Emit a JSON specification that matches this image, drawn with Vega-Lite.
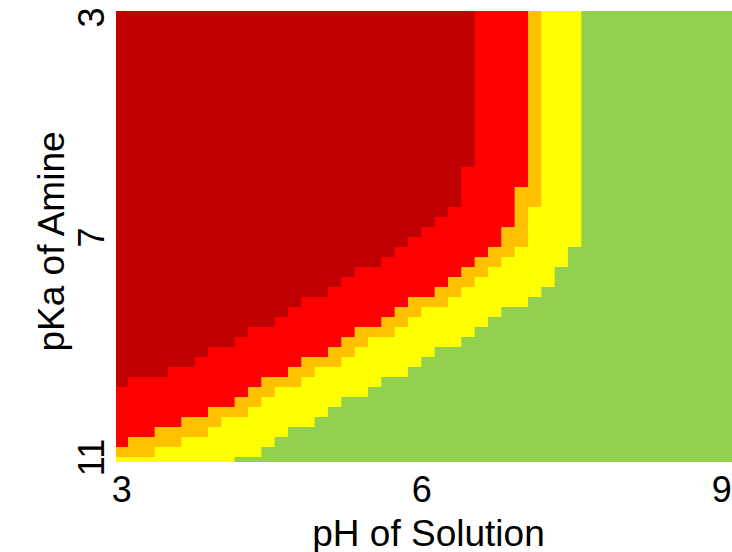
{
  "$schema": "https://vega.github.io/schema/vega-lite/v6.json",
  "width": 616,
  "height": 451,
  "autosize": {"type": "none"},
  "padding": {"left": 116, "top": 11, "right": 0, "bottom": 90},
  "background": "white",
  "config": {"view": {"stroke": null}, "font": "Liberation Sans"},
  "data": {
    "values": [
      {"y0": 2.818182, "y1": 5.727273, "lo": 2.9333, "dr": 6.5333, "rd": 7.0667, "orng": 7.2, "yr": 7.6, "hi": 9.2},
      {"y0": 5.727273, "y1": 6.090909, "lo": 2.9333, "dr": 6.4, "rd": 7.0667, "orng": 7.2, "yr": 7.6, "hi": 9.2},
      {"y0": 6.090909, "y1": 6.454545, "lo": 2.9333, "dr": 6.4, "rd": 6.9333, "orng": 7.2, "yr": 7.6, "hi": 9.2},
      {"y0": 6.454545, "y1": 6.636364, "lo": 2.9333, "dr": 6.2667, "rd": 6.9333, "orng": 7.0667, "yr": 7.6, "hi": 9.2},
      {"y0": 6.636364, "y1": 6.818182, "lo": 2.9333, "dr": 6.1333, "rd": 6.9333, "orng": 7.0667, "yr": 7.6, "hi": 9.2},
      {"y0": 6.818182, "y1": 7.0, "lo": 2.9333, "dr": 6.0, "rd": 6.8, "orng": 7.0667, "yr": 7.6, "hi": 9.2},
      {"y0": 7.0, "y1": 7.181818, "lo": 2.9333, "dr": 5.8667, "rd": 6.8, "orng": 7.0667, "yr": 7.6, "hi": 9.2},
      {"y0": 7.181818, "y1": 7.363636, "lo": 2.9333, "dr": 5.7333, "rd": 6.6667, "orng": 6.9333, "yr": 7.4667, "hi": 9.2},
      {"y0": 7.363636, "y1": 7.545455, "lo": 2.9333, "dr": 5.6, "rd": 6.5333, "orng": 6.8, "yr": 7.4667, "hi": 9.2},
      {"y0": 7.545455, "y1": 7.727273, "lo": 2.9333, "dr": 5.3333, "rd": 6.4, "orng": 6.6667, "yr": 7.3333, "hi": 9.2},
      {"y0": 7.727273, "y1": 7.909091, "lo": 2.9333, "dr": 5.2, "rd": 6.2667, "orng": 6.5333, "yr": 7.3333, "hi": 9.2},
      {"y0": 7.909091, "y1": 8.090909, "lo": 2.9333, "dr": 5.0667, "rd": 6.1333, "orng": 6.4, "yr": 7.2, "hi": 9.2},
      {"y0": 8.090909, "y1": 8.272727, "lo": 2.9333, "dr": 4.8, "rd": 5.8667, "orng": 6.2667, "yr": 7.0667, "hi": 9.2},
      {"y0": 8.272727, "y1": 8.454545, "lo": 2.9333, "dr": 4.6667, "rd": 5.7333, "orng": 6.0, "yr": 6.8, "hi": 9.2},
      {"y0": 8.454545, "y1": 8.636364, "lo": 2.9333, "dr": 4.5333, "rd": 5.6, "orng": 5.8667, "yr": 6.6667, "hi": 9.2},
      {"y0": 8.636364, "y1": 8.818182, "lo": 2.9333, "dr": 4.2667, "rd": 5.3333, "orng": 5.7333, "yr": 6.5333, "hi": 9.2},
      {"y0": 8.818182, "y1": 9.0, "lo": 2.9333, "dr": 4.1333, "rd": 5.2, "orng": 5.4667, "yr": 6.4, "hi": 9.2},
      {"y0": 9.0, "y1": 9.181818, "lo": 2.9333, "dr": 3.8667, "rd": 5.0667, "orng": 5.3333, "yr": 6.1333, "hi": 9.2},
      {"y0": 9.181818, "y1": 9.363636, "lo": 2.9333, "dr": 3.7333, "rd": 4.8, "orng": 5.2, "yr": 6.0, "hi": 9.2},
      {"y0": 9.363636, "y1": 9.545455, "lo": 2.9333, "dr": 3.4667, "rd": 4.6667, "orng": 4.9333, "yr": 5.8667, "hi": 9.2},
      {"y0": 9.545455, "y1": 9.727273, "lo": 2.9333, "dr": 3.0667, "rd": 4.4, "orng": 4.8, "yr": 5.6, "hi": 9.2},
      {"y0": 9.727273, "y1": 9.909091, "lo": 2.9333, "dr": 2.9333, "rd": 4.2667, "orng": 4.5333, "yr": 5.4667, "hi": 9.2},
      {"y0": 9.909091, "y1": 10.090909, "lo": 2.9333, "dr": 2.9333, "rd": 4.1333, "orng": 4.4, "yr": 5.2, "hi": 9.2},
      {"y0": 10.090909, "y1": 10.272727, "lo": 2.9333, "dr": 2.9333, "rd": 3.8667, "orng": 4.2667, "yr": 5.0667, "hi": 9.2},
      {"y0": 10.272727, "y1": 10.454545, "lo": 2.9333, "dr": 2.9333, "rd": 3.6, "orng": 4.0, "yr": 4.9333, "hi": 9.2},
      {"y0": 10.454545, "y1": 10.636364, "lo": 2.9333, "dr": 2.9333, "rd": 3.3333, "orng": 3.8667, "yr": 4.6667, "hi": 9.2},
      {"y0": 10.636364, "y1": 10.818182, "lo": 2.9333, "dr": 2.9333, "rd": 3.0667, "orng": 3.6, "yr": 4.5333, "hi": 9.2},
      {"y0": 10.818182, "y1": 11.0, "lo": 2.9333, "dr": 2.9333, "rd": 2.9333, "orng": 3.3333, "yr": 4.4, "hi": 9.2},
      {"y0": 11.0, "y1": 11.181818, "lo": 2.9333, "dr": 2.9333, "rd": 2.9333, "orng": 2.9333, "yr": 4.1333, "hi": 9.2}
    ]
  },
  "encoding": {
    "y": {
      "field": "y0",
      "type": "quantitative",
      "scale": {"domain": [2.890909, 11.090909], "reverse": true, "nice": false, "zero": false},
      "axis": {
        "values": [3, 7, 11],
        "title": "pKa of Amine",
        "ticks": false,
        "tickSize": 0,
        "domain": false,
        "grid": false,
        "labelAngle": 270,
        "labelAlign": "center",
        "labelBaseline": "alphabetic",
        "labelPadding": 13,
        "labelFontSize": 36,
        "labelColor": "#000000",
        "labelFont": "Liberation Sans",
        "labelOverlap": false,
        "labelFlush": false,
        "titleFont": "Liberation Sans",
        "titleFontSize": 37,
        "titleFontWeight": "normal",
        "titleColor": "#000000",
        "titleAngle": 270,
        "titleAlign": "center",
        "titleBaseline": "alphabetic",
        "titleX": -53,
        "titleY": 230
      }
    },
    "y2": {"field": "y1"},
    "x": {
      "field": "lo",
      "type": "quantitative",
      "scale": {"domain": [2.947, 9.107], "nice": false, "zero": false},
      "axis": {
        "values": [3, 6, 9],
        "title": "pH of Solution",
        "ticks": false,
        "tickSize": 0,
        "domain": false,
        "grid": false,
        "labelFlush": false,
        "labelOverlap": false,
        "labelAlign": "center",
        "labelBaseline": "alphabetic",
        "labelPadding": 39,
        "labelFontSize": 36,
        "labelColor": "#000000",
        "labelFont": "Liberation Sans",
        "titleFont": "Liberation Sans",
        "titleFontSize": 37,
        "titleFontWeight": "normal",
        "titleColor": "#000000",
        "titleAlign": "center",
        "titleBaseline": "alphabetic",
        "titleX": 312,
        "titleY": 83
      }
    }
  },
  "layer": [
    {
      "mark": {"type": "rect", "color": "#92D050", "clip": true},
      "encoding": {"x": {"field": "lo", "type": "quantitative"}, "x2": {"field": "hi"}}
    },
    {
      "mark": {"type": "rect", "color": "#FFFF00", "clip": true},
      "encoding": {"x": {"field": "lo", "type": "quantitative"}, "x2": {"field": "yr"}}
    },
    {
      "mark": {"type": "rect", "color": "#FFC000", "clip": true},
      "encoding": {"x": {"field": "lo", "type": "quantitative"}, "x2": {"field": "orng"}}
    },
    {
      "mark": {"type": "rect", "color": "#FF0000", "clip": true},
      "encoding": {"x": {"field": "lo", "type": "quantitative"}, "x2": {"field": "rd"}}
    },
    {
      "mark": {"type": "rect", "color": "#C00000", "clip": true},
      "encoding": {"x": {"field": "lo", "type": "quantitative"}, "x2": {"field": "dr"}}
    }
  ]
}
